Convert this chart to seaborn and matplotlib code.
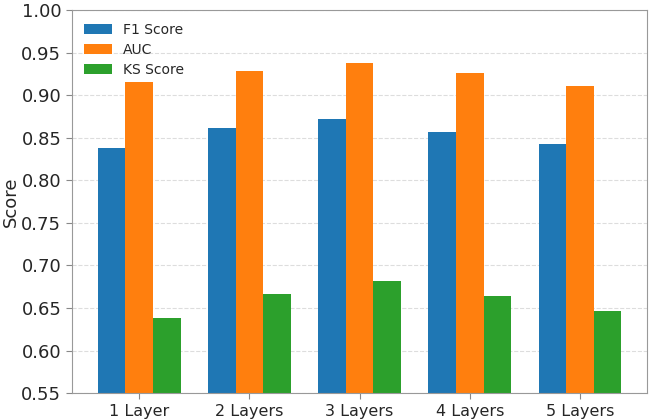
import pandas as pd
import matplotlib
matplotlib.use('Agg')
import matplotlib.pyplot as plt
import seaborn as sns

# Values
layers = ['1 Layer', '2 Layers', '3 Layers', '4 Layers', '5 Layers']
f1_score = [0.838, 0.861, 0.872, 0.857, 0.843]
auc = [0.915, 0.929, 0.938, 0.926, 0.911]
ks_score = [0.638, 0.667, 0.682, 0.664, 0.646]
metrics = ['F1 Score', 'AUC', 'KS Score']
colors = ['#1f77b4', '#ff7f0e', '#2ca02c']

# Long format for seaborn
df = pd.concat([
    pd.DataFrame({'layers': layers, 'metric': name, 'score': vals})
    for name, vals in zip(metrics, [f1_score, auc, ks_score])
], ignore_index=True)

sns.set_style('white')
plt.rcParams['font.family'] = ['DejaVu Sans']

fig, ax = plt.subplots(figsize=(6.52, 4.2), dpi=100)
sns.barplot(
    data=df, x='layers', y='score', hue='metric',
    order=layers, hue_order=metrics, palette=colors,
    width=0.75, saturation=1, linewidth=0, edgecolor='none', ax=ax
)

ax.set_ylim(0.55, 1.0)
ax.set_xlim(-0.6125, 4.6125)
ax.set_yticks([0.55 + 0.05 * i for i in range(10)])
ax.set_xlabel('')
ax.set_ylabel('Score', fontsize=13, labelpad=1)
ax.tick_params(axis='both', length=4, color='#888888', left=True, bottom=True)
ax.tick_params(axis='y', labelsize=13)
ax.tick_params(axis='x', labelsize=11.5)
ax.yaxis.grid(True, linestyle='--', color='#dddddd', linewidth=0.8)
ax.set_axisbelow(True)
for sp in ax.spines.values():
    sp.set_color('#999999')

ax.legend(loc='upper left', frameon=False, fontsize=10, labelspacing=0.45, title=None)

fig.subplots_adjust(left=0.11, right=0.993, top=0.976, bottom=0.064)
fig.savefig('out.png', dpi=100)
